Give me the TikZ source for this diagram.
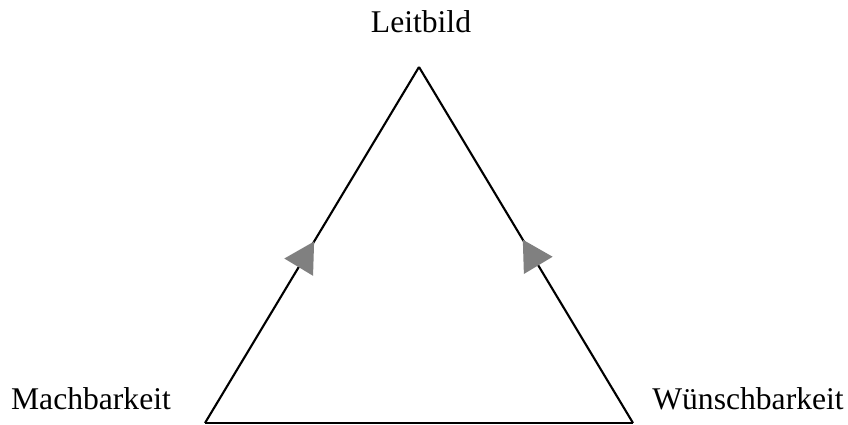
\documentclass[tikz,border=0pt]{standalone}
\usepackage{fontspec}
\setmainfont{Liberation Serif}
\usetikzlibrary{arrows.meta, decorations.markings}

\begin{document}
\begin{tikzpicture}[
    x=0.02cm, y=-0.02cm,
    label/.style={anchor=base, inner sep=0pt, font=\fontsize{18}{20}\selectfont},
    side/.style={line width=1.2pt},
    midarrow/.style={postaction={decorate}, decoration={markings,
        mark=at position #1 with {\arrow[gray]{Triangle[length=0.6cm, width=0.66cm]}}}},
]
    \useasboundingbox (0,0) rectangle (848,425);

    \coordinate (top) at (419,67);
    \coordinate (left) at (205,423);
    \coordinate (right) at (633,423);

    \node[label] at (421,33) (leitbild) {Leitbild};
    \node[label] at (91,409) (mach) {Machbarkeit};
    \node[label] at (748,409) (wunsch) {Wünschbarkeit};

    \draw[side, midarrow=0.51] (left) -- (top);
    \draw[side, midarrow=0.515] (right) -- (top);
    \draw[side] (left) -- (right);
\end{tikzpicture}
\end{document}
